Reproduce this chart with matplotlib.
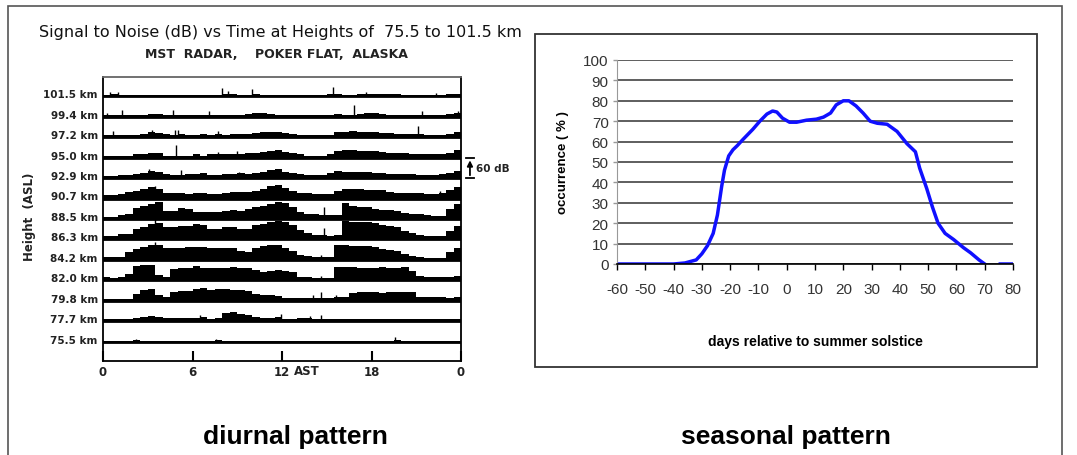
"""Two-panel figure: diurnal MST radar echo pattern and seasonal occurrence curve."""
import matplotlib
matplotlib.use("Agg")
import matplotlib.pyplot as plt
import numpy as np
from matplotlib.patches import Rectangle

plt.rcParams["axes.unicode_minus"] = False

W, H = 1077, 456

# ---- left panel: signal to noise (dB above row baseline), half-hour bins 0..24 AST
heights_km = ["101.5", "99.4", "97.2", "95.0", "92.9", "90.7", "88.5",
              "86.3", "84.2", "82.0", "79.8", "77.7", "75.5"]

snr_101_5 = [4, 6, 4, 4, 4, 4, 4, 4, 4, 4, 4, 4, 4, 4, 4, 4, 6, 6, 4, 4, 6, 4, 4, 4,
             4, 4, 4, 4, 4, 4, 6, 6, 4, 4, 6, 6, 6, 6, 6, 6, 4, 4, 4, 4, 4, 4, 6, 6]
snr_99_4 = [6, 6, 6, 6, 6, 6, 9, 9, 6, 6, 6, 6, 6, 6, 6, 6, 6, 6, 6, 9, 12, 12, 9, 6,
            6, 6, 6, 6, 6, 6, 6, 9, 6, 6, 9, 12, 12, 9, 6, 6, 6, 6, 6, 6, 6, 6, 9, 12]
snr_97_2 = [6, 6, 6, 6, 6, 9, 15, 12, 9, 6, 9, 6, 6, 9, 6, 9, 6, 9, 9, 9, 12, 15, 15, 15,
            12, 9, 6, 6, 6, 6, 6, 15, 15, 18, 15, 15, 15, 12, 12, 9, 9, 9, 9, 6, 6, 6, 9, 15]
snr_95_0 = [6, 6, 6, 6, 9, 9, 12, 12, 6, 6, 6, 6, 9, 6, 9, 9, 9, 9, 9, 12, 12, 15, 18, 21,
            15, 12, 9, 6, 6, 6, 9, 18, 21, 21, 18, 18, 18, 15, 12, 12, 12, 9, 9, 9, 9, 9, 12, 21]
snr_92_9 = [6, 6, 9, 9, 12, 15, 21, 18, 12, 9, 9, 12, 12, 15, 9, 9, 12, 12, 15, 12, 15, 18, 24, 27,
            18, 15, 12, 9, 9, 9, 15, 21, 18, 18, 18, 18, 15, 15, 12, 12, 12, 12, 9, 9, 9, 12, 15, 21]
snr_90_7 = [9, 9, 12, 18, 21, 27, 33, 27, 15, 15, 15, 12, 15, 15, 12, 12, 15, 18, 18, 18, 21, 27, 36, 39,
            30, 21, 15, 15, 12, 12, 12, 21, 27, 27, 27, 24, 24, 24, 18, 15, 15, 15, 15, 12, 12, 15, 24, 33]
snr_88_5 = [6, 6, 12, 15, 33, 39, 45, 51, 24, 24, 33, 30, 21, 21, 21, 21, 24, 27, 24, 30, 36, 39, 45, 51,
            48, 36, 21, 15, 15, 12, 12, 12, 48, 39, 36, 36, 30, 27, 27, 24, 18, 15, 15, 12, 9, 9, 30, 45]
snr_86_3 = [9, 9, 15, 15, 30, 36, 45, 48, 36, 36, 39, 39, 45, 42, 30, 30, 36, 36, 30, 30, 42, 45, 51, 54,
            51, 42, 27, 18, 12, 12, 9, 12, 54, 51, 51, 51, 48, 42, 39, 36, 24, 18, 12, 9, 9, 9, 24, 39]
snr_84_2 = [9, 9, 9, 24, 33, 39, 45, 45, 36, 36, 36, 39, 39, 39, 36, 36, 36, 36, 27, 24, 36, 42, 45, 45,
            36, 27, 15, 12, 9, 9, 9, 45, 45, 42, 42, 42, 39, 33, 30, 27, 18, 12, 9, 6, 6, 6, 24, 36]
snr_82_0 = [9, 6, 9, 18, 42, 45, 45, 15, 9, 33, 36, 36, 42, 36, 36, 36, 36, 39, 36, 36, 30, 24, 27, 30,
            27, 24, 9, 9, 6, 6, 6, 39, 39, 39, 36, 36, 36, 39, 36, 36, 39, 27, 12, 9, 9, 9, 9, 12]
snr_79_8 = [6, 6, 6, 6, 21, 33, 36, 18, 12, 27, 30, 30, 36, 39, 33, 36, 36, 33, 33, 30, 21, 18, 18, 15,
            9, 9, 9, 9, 9, 9, 9, 12, 12, 24, 27, 27, 27, 24, 27, 27, 27, 27, 12, 12, 12, 12, 9, 12]
snr_77_7 = [6, 6, 6, 6, 9, 12, 15, 12, 9, 9, 9, 9, 9, 12, 6, 9, 24, 27, 21, 18, 12, 9, 9, 12,
            6, 6, 9, 9, 6, 6, 6, 6, 6, 6, 6, 6, 6, 6, 6, 6, 6, 6, 6, 6, 6, 6, 6, 6]
snr_75_5 = [4, 4, 4, 4, 5, 4, 4, 4, 4, 4, 4, 4, 4, 4, 4, 5, 4, 4, 4, 4, 4, 4, 4, 4,
            4, 4, 4, 4, 4, 4, 4, 4, 4, 4, 4, 4, 4, 4, 4, 5, 4, 4, 4, 4, 4, 4, 4, 4]

snr_rows = [snr_101_5, snr_99_4, snr_97_2, snr_95_0, snr_92_9, snr_90_7, snr_88_5,
            snr_86_3, snr_84_2, snr_82_0, snr_79_8, snr_77_7, snr_75_5]

# isolated echo spikes: (hour AST, dB) per row, top to bottom
spikes = [
    [(0.5, 12), (1.0, 12), (8.0, 24), (8.4, 14), (10.0, 20), (15.4, 27), (17.6, 12), (22.3, 9)],
    [(0.3, 12), (1.3, 20), (4.7, 20), (7.1, 15), (16.8, 33), (21.4, 15), (23.8, 15)],
    [(0.7, 18), (3.3, 20), (4.8, 20), (5.0, 20), (7.7, 18), (21.1, 32)],
    [(4.9, 36), (7.7, 15), (9.0, 18)],
    [(3.1, 27), (5.2, 24), (9.1, 18)],
    [(3.5, 36), (22.6, 21)],
    [(14.8, 35)],
    [(3.5, 60), (14.8, 35)],
    [(3.5, 54), (14.6, 15)],
    [(14.6, 12)],
    [(14.1, 18), (14.6, 27), (15.6, 18), (20.4, 27)],
    [(6.5, 18), (11.9, 21), (13.9, 15), (14.6, 18)],
    [(2.2, 9), (7.6, 9), (19.6, 15)],
]

time_ticks = [0, 6, 12, 18, 24]
time_labels = ["0", "6", "12", "18", "0"]

# ---- right panel: seasonal occurrence
days = [-60, -50, -40, -36, -32, -30, -28, -26, -24.5, -23, -22, -20.5, -19, -17.5,
        -15.5, -12, -9.5, -7, -5, -3.5, -1.5, 1, 3.5, 7, 10.5, 13, 15.5, 17.5, 20, 22,
        24.5, 27, 29.5, 32, 35.5, 39, 42.5, 45.5, 47, 49.5, 51.5, 53.5, 56, 59, 62.5,
        65, 68, 70, 72.5, 75.5, 80]
occurrence = [0, 0, 0, 0.5, 2, 5, 9, 15, 24, 38, 46, 53, 56, 58,
              61, 66, 70, 73.5, 75, 74.5, 71.5, 69.5, 69.5, 70.5, 71, 72, 74, 78, 80, 80,
              77.5, 74, 70, 69, 68.5, 65, 59, 55, 47, 37, 28, 20, 15, 12, 8,
              5.5, 2, 0, np.nan, 0, 0]

ROW_DB = 60  # spacing between row baselines, also the scale bar length


def px_rect(x0, y0, x1, y1):
    """Figure-fraction rect from pixel box (y measured from top)."""
    return [x0 / W, 1 - y1 / H, (x1 - x0) / W, (y1 - y0) / H]


fig = plt.figure(figsize=(W / 100, H / 100), dpi=100)

# outer frame and right panel box
fig.add_artist(Rectangle((8 / W, -0.05), (1062 - 8) / W, 1.05 - 7 / H,
                         transform=fig.transFigure, fill=False, ec="#555555", lw=1.2))
fig.add_artist(Rectangle((535 / W, 1 - 368 / H), (1037 - 535) / W, (368 - 35) / H,
                         transform=fig.transFigure, fill=False, ec="#333333", lw=1.3))

# ---------------- left panel
ax = fig.add_axes(px_rect(103, 78, 461, 362))
edges = np.arange(0, 24.01, 0.5)
n_rows = len(heights_km)
for i, (label, vals) in enumerate(zip(heights_km, snr_rows)):
    base = (n_rows - 1 - i) * ROW_DB
    ax.stairs(np.array(vals) + base, edges, baseline=base, fill=True, color="black", lw=0)
    ax.axhline(base, color="black", lw=2.0)
    for h, db in spikes[i]:
        ax.vlines(h, base, base + db, color="black", lw=1.0)
    ax.text(-0.35, base + 6, f"{label} km", ha="right", va="center",
            fontsize=7.5, weight="bold", color="#222222")

ax.set_xlim(0, 24)
ax.set_ylim(-56, (n_rows - 1) * ROW_DB + 56)
ax.set_yticks([])
ax.set_xticks(time_ticks)
ax.set_xticklabels(time_labels, fontsize=8.5, weight="bold", color="#222222")
ax.tick_params(axis="x", direction="in", length=7, width=1.5, pad=3)
for s in ax.spines.values():
    s.set_linewidth(1.3)
ax.spines["top"].set_color("#666666")
fig.text(294 / W, 1 - 372 / H, "AST", ha="left", va="center", fontsize=8.5,
         weight="bold", color="#222222")

# 60 dB scale bar next to the 92.9 km row
bar_row = heights_km.index("92.9")
bar_base = (n_rows - 1 - bar_row) * ROW_DB
ax.annotate("", xy=(24.6, bar_base + ROW_DB), xytext=(24.6, bar_base),
            arrowprops=dict(arrowstyle="-|>", color="black", lw=1.3, mutation_scale=8),
            annotation_clip=False)
ax.plot([24.35, 24.85], [bar_base, bar_base], color="black", lw=1.3, clip_on=False)
ax.plot([24.35, 24.85], [bar_base + ROW_DB, bar_base + ROW_DB], color="black", lw=1.3,
        clip_on=False)
ax.text(25.0, bar_base + ROW_DB / 2, "60 dB", fontsize=7.5, va="center", ha="left",
        weight="bold", color="#222222")

fig.text(30 / W, 1 - 217 / H, "Height  (ASL)", rotation=90, ha="center", va="center",
         fontsize=8.5, weight="bold", color="#222222")
fig.text(280 / W, 1 - 32 / H, "Signal to Noise (dB) vs Time at Heights of  75.5 to 101.5 km",
         ha="center", va="center", fontsize=11.5, color="#111111")
fig.text(276 / W, 1 - 55 / H, "MST  RADAR,    POKER FLAT,  ALASKA", ha="center",
         va="center", fontsize=9, weight="bold", color="#222222")

# ---------------- right panel
ax2 = fig.add_axes(px_rect(617, 61, 1013, 265))
ax2.plot(days, occurrence, color="#1010ff", lw=2.5)
ax2.set_xlim(-60, 80)
ax2.set_ylim(0, 100)
ax2.set_xticks(range(-60, 81, 10))
ax2.set_yticks(range(0, 101, 10))
ax2.yaxis.grid(True, color="#333333", lw=1.1)
ax2.set_axisbelow(True)
for side in ("top", "right"):
    ax2.spines[side].set_visible(False)
ax2.spines["left"].set_color("#999999")
ax2.spines["bottom"].set_color("black")
ax2.spines["bottom"].set_linewidth(1.2)
ax2.tick_params(axis="x", direction="out", length=4, width=1, pad=9,
                labelsize=11, labelcolor="#333333")
ax2.tick_params(axis="y", direction="out", length=3, width=1, color="#999999", pad=3,
                labelsize=11, labelcolor="#333333")
for lab in ax2.get_xticklabels() + ax2.get_yticklabels():
    lab.set_family("Liberation Sans")
ax2.set_ylabel("occurrence ( % )", fontsize=9.5, weight="bold", family="Liberation Sans",
               labelpad=10)
ax2.set_xlabel("days relative to summer solstice", fontsize=10, weight="bold",
               family="Liberation Sans", labelpad=27)

# captions
cap_font = ["Liberation Sans Narrow", "Liberation Sans"]
fig.text(295 / W, 1 - 437 / H, "diurnal pattern", ha="center", va="center",
         fontsize=19, weight="bold", family=cap_font)
fig.text(786 / W, 1 - 437 / H, "seasonal pattern", ha="center", va="center",
         fontsize=19, weight="bold", family=cap_font)

fig.savefig("out.png", dpi=100)
